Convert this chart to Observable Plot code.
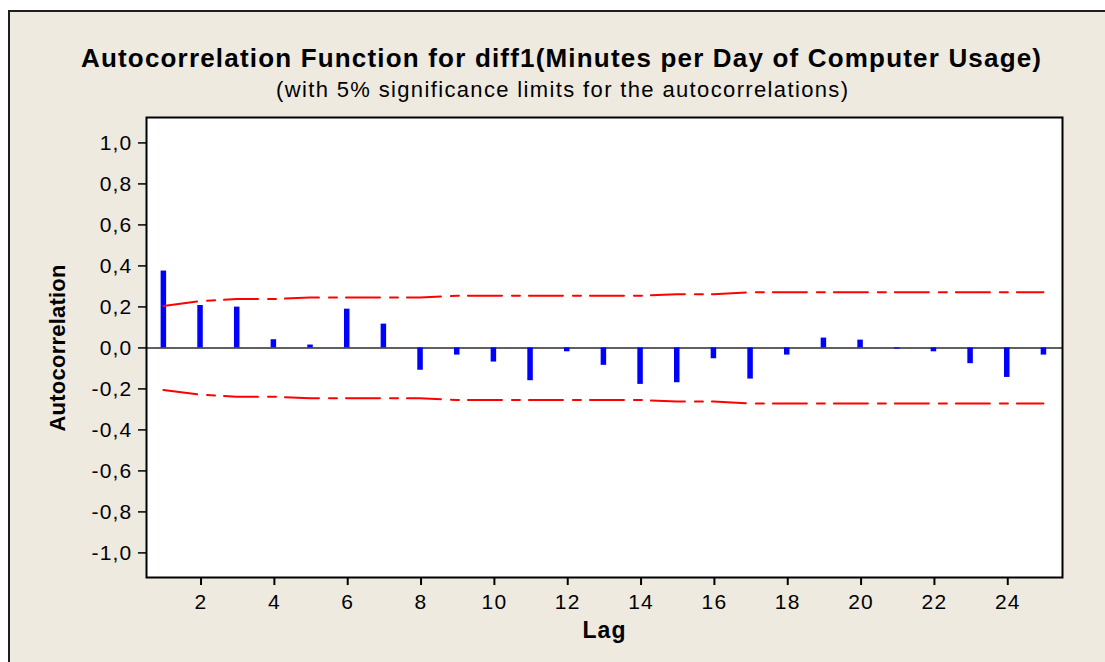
<!DOCTYPE html>
<html>
<head>
<meta charset="utf-8">
<script src="https://cdn.jsdelivr.net/npm/d3@7"></script>
<script src="https://cdn.jsdelivr.net/npm/@observablehq/plot@0.6"></script>
<style>
  html, body { margin: 0; padding: 0; background: #ffffff; }
  body { width: 1105px; height: 662px; position: relative; overflow: hidden;
         font-family: "Liberation Sans", Arial, sans-serif; }
  #panel { position: absolute; left: 8px; top: 10px; width: 1120px; height: 700px;
           background: #eeeae0; border-left: 2px solid #1e1e1e; border-top: 2px solid #1e1e1e; }
  #chart, #labels { position: absolute; left: 0; top: 0; }
</style>
</head>
<body>
<div id="panel"></div>
<div id="chart"></div>
<svg id="labels" width="1105" height="662"></svg>
<script>
// Sample autocorrelations of the differenced series, lags 1..25
const lags = [1, 2, 3, 4, 5, 6, 7, 8, 9, 10, 11, 12, 13, 14, 15, 16, 17, 18, 19, 20, 21, 22, 23, 24, 25];
const acf = [0.375, 0.207, 0.199, 0.040, 0.014, 0.189, 0.116, -0.109, -0.035, -0.069,
             -0.160, -0.019, -0.085, -0.178, -0.170, -0.053, -0.152, -0.035, 0.048, 0.038,
             -0.006, -0.019, -0.077, -0.144, -0.035];
// 5% significance limits (upper; lower is the mirror image)
const limit = [0.205, 0.228, 0.238, 0.238, 0.246, 0.246, 0.246, 0.246, 0.254, 0.254,
               0.254, 0.254, 0.254, 0.254, 0.262, 0.262, 0.271, 0.271, 0.271, 0.271,
               0.271, 0.271, 0.271, 0.271, 0.271];
const xTicks = [2, 4, 6, 8, 10, 12, 14, 16, 18, 20, 22, 24];
const yTicks = [-1.0, -0.8, -0.6, -0.4, -0.2, 0.0, 0.2, 0.4, 0.6, 0.8, 1.0];

const titleText = "Autocorrelation Function for diff1(Minutes per Day of Computer Usage)";
const subtitleText = "(with 5% significance limits for the autocorrelations)";
const xLabel = "Lag";
const yLabel = "Autocorrelation";

const rows = lags.map((lag, i) => ({lag, r: acf[i], upper: limit[i], lower: -limit[i]}));
const commaFmt = d => d.toFixed(1).replace(".", ",");
const limitDash = "34,10,8,9";
const font = "Liberation Sans, Arial, sans-serif";

const chart = Plot.plot({
  width: 1105,
  height: 662,
  marginLeft: 146,
  marginRight: 43,
  marginTop: 117,
  marginBottom: 85,
  style: {background: "transparent", fontFamily: font, color: "#000", letterSpacing: "1.2px"},
  x: {domain: [0.54, 25.52]},
  y: {domain: [-1.12, 1.124]},
  marks: [
    Plot.frame({fill: "white", stroke: null}),
    Plot.ruleY([0], {stroke: "#606060", strokeWidth: 2}),
    Plot.ruleX(rows, {x: "lag", y1: 0, y2: "r", stroke: "#0000ff", strokeWidth: 5.5}),
    Plot.line(rows, {x: "lag", y: "upper", stroke: "#ff0000", strokeWidth: 2, strokeDasharray: limitDash}),
    Plot.line(rows, {x: "lag", y: "lower", stroke: "#ff0000", strokeWidth: 2, strokeDasharray: limitDash}),
    Plot.frame({stroke: "#000", strokeWidth: 2}),
    Plot.axisX({ticks: xTicks, tickSize: 8, tickPadding: 9, label: null, fontSize: 21,
                tickFormat: d => String(d), strokeWidth: 2, dx: 1}),
    Plot.axisY({ticks: yTicks, tickSize: 8, tickPadding: 6, label: null, fontSize: 21,
                tickFormat: commaFmt, strokeWidth: 1.5})
  ]
});
document.getElementById("chart").appendChild(chart);

// Titles and axis labels, stretched to the widths used by the original layout
const svg = d3.select("#labels").style("font-family", font);
const addText = (txt, x, y, size, weight, len, rotate) => {
  const t = svg.append("text")
    .attr("x", x).attr("y", y)
    .attr("text-anchor", "middle")
    .attr("font-size", size)
    .attr("font-weight", weight)
    .attr("fill", "#000")
    .attr("textLength", len)
    .attr("lengthAdjust", "spacing")
    .text(txt);
  if (rotate) t.attr("transform", `rotate(-90,${x},${y})`);
};
addText(titleText, 561, 67, 26, "bold", 960, false);
addText(subtitleText, 562, 97, 22, "normal", 572, false);
addText(yLabel, 65, 348, 22, "bold", 167, true);
addText(xLabel, 604, 638, 23, "bold", 43, false);
</script>
</body>
</html>
